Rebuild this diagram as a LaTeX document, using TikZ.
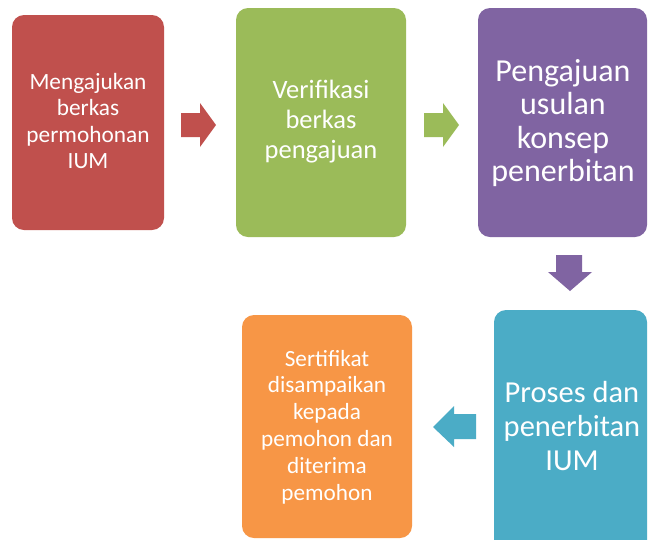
\documentclass[tikz,border=0pt]{standalone}
\usepackage{fontspec}
\setmainfont{Carlito}
\definecolor{cred}{HTML}{C0504D}
\definecolor{cgreen}{HTML}{9BBB59}
\definecolor{cpurple}{HTML}{8064A2}
\definecolor{cblue}{HTML}{4BACC6}
\definecolor{corange}{HTML}{F79646}
\begin{document}
\begin{tikzpicture}[x=1pt,y=-1pt,
  box/.style={rounded corners=12pt, draw=none},
  lbl/.style={text=white, align=center, inner sep=0pt}]
\useasboundingbox (0,0) rectangle (648,539);
\fill[white] (0,0) rectangle (648,539);
% boxes
\fill[box, cred] (12,15) rectangle (164,230);
\fill[box, cgreen] (236,8) rectangle (406,237);
\fill[box, cpurple] (478,8) rectangle (647,237);
\fill[box, cblue] (494,310) rectangle (647,560);
\fill[box, corange] (242,315) rectangle (412,538);
% labels
\node[lbl, font=\fontsize{23.3}{26.3}\selectfont] (t1) at (88,121) {Mengajukan\\berkas\\permohonan\\IUM};
\node[lbl, font=\fontsize{26.5}{30}\selectfont] (t2) at (321,122) {Verifikasi\\berkas\\pengajuan};
\node[lbl, font=\fontsize{32}{33.5}\selectfont] (t3) at (563,123) {Pengajuan\\usulan\\konsep\\penerbitan};
\node[lbl, font=\fontsize{30.5}{34}\selectfont] (t4) at (572,426) {Proses dan\\penerbitan\\IUM};
\node[lbl, font=\fontsize{23.2}{26.8}\selectfont] (t5) at (327,427) {Sertifikat\\disampaikan\\kepada\\pemohon dan\\diterima\\pemohon};
% block arrows
\fill[cred] (181,113) -- (200,113) -- (200,103) -- (216,125) -- (200,147) -- (200,137) -- (181,137) -- cycle;
\fill[cgreen] (424,113) -- (443,113) -- (443,103) -- (459,125) -- (443,147) -- (443,137) -- (424,137) -- cycle;
\fill[cpurple] (556,255) -- (582,255) -- (582,272) -- (592,272) -- (570,291) -- (548,272) -- (556,272) -- cycle;
\fill[cblue] (476,414) -- (454,414) -- (454,406) -- (433,427) -- (454,447) -- (454,439) -- (476,439) -- cycle;
\end{tikzpicture}
\end{document}
